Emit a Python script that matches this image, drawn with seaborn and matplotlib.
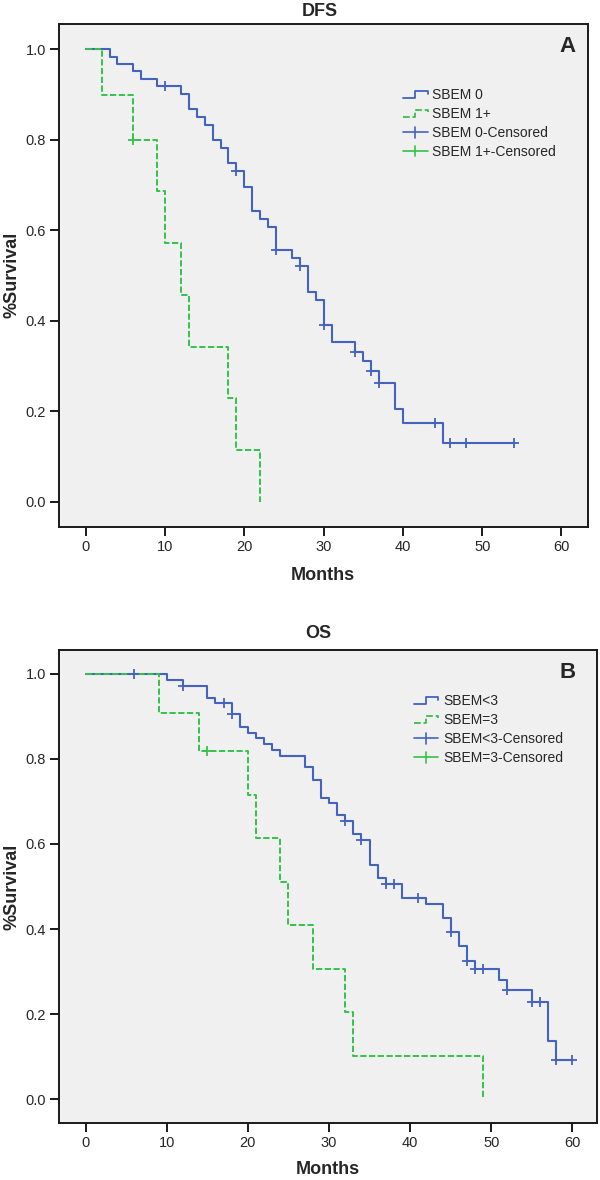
import numpy as np
import pandas as pd
import matplotlib
matplotlib.use("Agg")
import matplotlib.pyplot as plt
import seaborn as sns
from matplotlib.lines import Line2D
from matplotlib.legend_handler import HandlerBase

# ---------------- data ----------------
# Panel A: DFS
dfs_sbem0_t = [0, 3, 4, 6, 7, 9, 12, 13, 14, 15, 16, 17, 18, 19, 20, 21, 22, 23, 24,
               26, 27, 28, 29, 30, 31, 34, 35, 36, 37, 39, 40, 45, 54]
dfs_sbem0_s = [1.0, 0.984, 0.967, 0.951, 0.934, 0.918, 0.901, 0.867, 0.850, 0.833,
               0.800, 0.782, 0.748, 0.731, 0.696, 0.643, 0.626, 0.608, 0.556,
               0.539, 0.520, 0.464, 0.446, 0.391, 0.352, 0.331, 0.310, 0.289,
               0.262, 0.205, 0.175, 0.129, 0.129]
dfs_sbem0_cens_t = [10, 19, 24, 27, 30, 34, 36, 37, 44, 46, 48, 54]
dfs_sbem0_cens_s = [0.918, 0.731, 0.556, 0.520, 0.391, 0.331, 0.289, 0.262,
                    0.175, 0.129, 0.129, 0.129]
dfs_sbem1_t = [0, 2, 6, 9, 10, 12, 13, 18, 19, 22]
dfs_sbem1_s = [1.0, 0.900, 0.800, 0.686, 0.571, 0.457, 0.343, 0.229, 0.114, 0.0]
dfs_sbem1_cens_t = [6]
dfs_sbem1_cens_s = [0.800]

# Panel B: OS
os_lt3_t = [0, 10, 12, 15, 16, 18, 19, 20, 21, 22, 23, 24, 27, 28, 29, 30, 31, 32,
            33, 34, 35, 36, 37, 39, 42, 44, 45, 46, 47, 48, 51, 52, 55, 57, 58, 60]
os_lt3_s = [1.0, 0.985, 0.972, 0.944, 0.931, 0.905, 0.876, 0.862, 0.849, 0.835,
            0.821, 0.807, 0.780, 0.751, 0.709, 0.696, 0.668, 0.654, 0.624, 0.610,
            0.550, 0.521, 0.506, 0.474, 0.458, 0.426, 0.392, 0.359, 0.324, 0.306,
            0.281, 0.256, 0.228, 0.137, 0.091, 0.091]
os_lt3_cens_t = [6, 12, 17, 18, 32, 34, 37, 38, 41, 45, 47, 48, 49, 52, 55, 56, 58, 60]
os_lt3_cens_s = [1.0, 0.972, 0.931, 0.905, 0.654, 0.610, 0.506, 0.506, 0.474,
                 0.392, 0.324, 0.306, 0.306, 0.256, 0.228, 0.228, 0.091, 0.091]
os_eq3_t = [0, 9, 14, 20, 21, 24, 25, 28, 32, 33, 49]
os_eq3_s = [1.0, 0.909, 0.818, 0.716, 0.614, 0.511, 0.409, 0.307, 0.204, 0.102, 0.0]
os_eq3_cens_t = [15]
os_eq3_cens_s = [0.818]

x_ticks = [0, 10, 20, 30, 40, 50, 60]
y_ticks = [0.0, 0.2, 0.4, 0.6, 0.8, 1.0]

labels_a = ["SBEM 0", "SBEM 1+", "SBEM 0-Censored", "SBEM 1+-Censored"]
labels_b = ["SBEM<3", "SBEM=3", "SBEM<3-Censored", "SBEM=3-Censored"]

BLUE = "#4463BE"
GREEN = "#33C24A"
BG = "#F0F0F0"

# ---------------- style ----------------
sns.set_theme(style="ticks")
plt.rcParams["font.family"] = ["Liberation Sans", "DejaVu Sans"]
plt.rcParams["axes.edgecolor"] = "#1a1a1a"


class StepHandler(HandlerBase):
    def create_artists(self, legend, orig_handle, xdescent, ydescent, width,
                       height, fontsize, trans):
        x0 = -xdescent
        x1 = x0 + width
        yb = -ydescent + 0.15 * height
        yt = -ydescent + 0.85 * height
        xm = x0 + 0.5 * width
        xs = [x0, xm, xm, x1, x1]
        ys = [yb, yb, yt, yt, yt - 0.25 * height]
        ln = Line2D(xs, ys, color=orig_handle.get_color(),
                    linestyle=orig_handle.get_linestyle(),
                    lw=orig_handle.get_linewidth())
        ln.set_transform(trans)
        return [ln]


class CensHandler(HandlerBase):
    def create_artists(self, legend, orig_handle, xdescent, ydescent, width,
                       height, fontsize, trans):
        x0 = -xdescent
        x1 = x0 + width
        yc = -ydescent + 0.5 * height
        xm = x0 + 0.5 * width
        h = Line2D([x0, x1], [yc, yc], color=orig_handle.get_color(), lw=1.2)
        v = Line2D([xm, xm], [yc - 0.55 * height, yc + 0.55 * height],
                   color=orig_handle.get_color(), lw=1.2)
        h.set_transform(trans)
        v.set_transform(trans)
        return [h, v]


class CensLine(Line2D):
    pass


def panel(ax, t0, s0, c0t, c0s, t1, s1, c1t, c1s, xlim, labels, leg_anchor,
          hlen, hpad):
    ax.set_facecolor(BG)
    sns.lineplot(x=t0, y=s0, ax=ax, color=BLUE, lw=1.5, drawstyle="steps-post",
                 estimator=None, sort=False, zorder=2)
    sns.lineplot(x=t1, y=s1, ax=ax, color=GREEN, lw=1.4, drawstyle="steps-post",
                 estimator=None, sort=False, linestyle=(0, (3.2, 1.3)), zorder=3)
    sns.scatterplot(x=c0t, y=c0s, ax=ax, marker="+", s=60, color=BLUE,
                    linewidth=1.3, zorder=4)
    sns.scatterplot(x=c1t, y=c1s, ax=ax, marker="+", s=60, color=GREEN,
                    linewidth=1.3, zorder=4)
    ax.set_xlim(*xlim)
    ax.set_ylim(-0.056, 1.056)
    ax.set_xticks(x_ticks)
    ax.set_yticks(y_ticks)
    ax.set_xticklabels([str(v) for v in x_ticks], fontsize=10.5)
    ax.set_yticklabels(["%.1f" % v for v in y_ticks], fontsize=10.5)
    ax.tick_params(direction="out", length=6.5, width=1.4, color="#1a1a1a",
                   pad=3)
    for sp in ax.spines.values():
        sp.set_visible(True)
        sp.set_linewidth(1.4)
    ax.set_xlabel("")
    ax.set_ylabel("")
    h0 = Line2D([], [], color=BLUE, lw=1.3)
    h1 = Line2D([], [], color=GREEN, lw=1.3, linestyle=(0, (3, 1.5)))
    h2 = CensLine([], [], color=BLUE)
    h3 = CensLine([], [], color=GREEN)
    ax.legend([h0, h1, h2, h3], labels, loc="upper left",
              bbox_to_anchor=leg_anchor, frameon=False, fontsize=10,
              handlelength=hlen, handletextpad=hpad, labelspacing=0.35,
              borderpad=0, borderaxespad=0,
              handler_map={Line2D: StepHandler(), CensLine: CensHandler()})


fig = plt.figure(figsize=(6.0, 11.8), dpi=100)
W, H = 600.0, 1180.0
# axes rectangles from pixel frame positions
axA = fig.add_axes([59 / W, 1 - 527 / H, (588 - 59) / W, (527 - 24) / H])
axB = fig.add_axes([59 / W, 1 - 1123 / H, (597 - 59) / W, (1123 - 650) / H])

panel(axA, dfs_sbem0_t, dfs_sbem0_s, dfs_sbem0_cens_t, dfs_sbem0_cens_s,
      dfs_sbem1_t, dfs_sbem1_s, dfs_sbem1_cens_t, dfs_sbem1_cens_s,
      (-3.37, 63.35), labels_a, (0.650, 0.872), 1.8, 0.3)
panel(axB, os_lt3_t, os_lt3_s, os_lt3_cens_t, os_lt3_cens_s,
      os_eq3_t, os_eq3_s, os_eq3_cens_t, os_eq3_cens_s,
      (-3.3, 63.05), labels_b, (0.659, 0.906), 1.75, 0.42)

# titles, axis labels, panel letters
fig.text(320 / W, 1 - 11 / H, "DFS", ha="center", va="center",
         fontsize=13, fontweight="bold")
fig.text(318 / W, 1 - 633 / H, "OS", ha="center", va="center",
         fontsize=13, fontweight="bold")
fig.text(323 / W, 1 - 575 / H, "Months", ha="center", va="center",
         fontsize=13, fontweight="bold")
fig.text(328 / W, 1 - 1170 / H, "Months", ha="center", va="center",
         fontsize=13, fontweight="bold")
fig.text(12 / W, 1 - 275 / H, "%Survival", ha="center", va="center",
         rotation=90, fontsize=13, fontweight="bold")
fig.text(12 / W, 1 - 887 / H, "%Survival", ha="center", va="center",
         rotation=90, fontsize=13, fontweight="bold")
fig.text(568 / W, 1 - 46 / H, "A", ha="center", va="center",
         fontsize=16, fontweight="bold")
fig.text(568 / W, 1 - 673 / H, "B", ha="center", va="center",
         fontsize=16, fontweight="bold")

fig.savefig("out.png", dpi=100, facecolor="white")
